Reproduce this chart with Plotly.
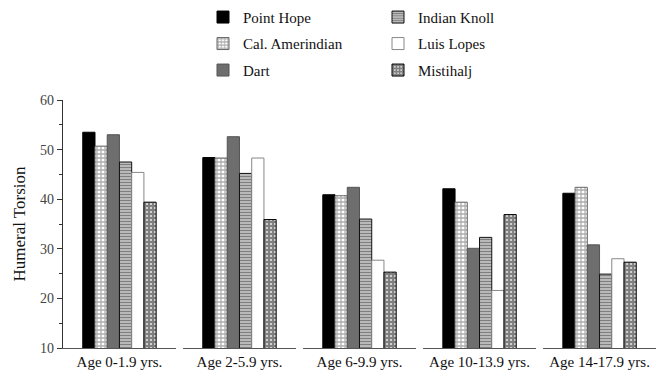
import plotly.graph_objects as go
from plotly.subplots import make_subplots

groups = ["Age 0-1.9 yrs.", "Age 2-5.9 yrs.", "Age 6-9.9 yrs.", "Age 10-13.9 yrs.", "Age 14-17.9 yrs."]
series_names = ["Point Hope", "Cal. Amerindian", "Dart", "Indian Knoll", "Luis Lopes", "Mistihalj"]
point_hope = [53.5, 48.4, 40.9, 42.1, 41.2]
cal_amerindian = [50.7, 48.3, 40.7, 39.4, 42.4]
dart = [53.0, 52.6, 42.4, 30.1, 30.8]
indian_knoll = [47.5, 45.2, 36.0, 32.3, 24.9]
luis_lopes = [45.4, 48.3, 27.7, 21.6, 28.0]
mistihalj = [39.4, 35.9, 25.3, 36.9, 27.3]
series_values = [point_hope, cal_amerindian, dart, indian_knoll, luis_lopes, mistihalj]

styles = [
    dict(color="#000000", line=dict(color="#000000", width=1)),
    dict(color="#ffffff", line=dict(color="#666666", width=1),
         pattern=dict(shape="+", fgcolor="#5a5a5a", bgcolor="#ffffff", size=4, solidity=0.55)),
    dict(color="#6e6e6e", line=dict(color="#555555", width=1)),
    dict(color="#ffffff", line=dict(color="#111111", width=1),
         pattern=dict(shape="-", fgcolor="#000000", bgcolor="#ffffff", size=3, solidity=0.7)),
    dict(color="#ffffff", line=dict(color="#888888", width=1)),
    dict(color="#ffffff", line=dict(color="#000000", width=1),
         pattern=dict(shape="+", fgcolor="#000000", bgcolor="#ffffff", size=4, solidity=0.82)),
]
legend_of = ["legend", "legend", "legend", "legend2", "legend2", "legend2"]

n = len(groups)
fig = make_subplots(rows=1, cols=n, shared_yaxes=True, horizontal_spacing=0.012)

for gi, g in enumerate(groups):
    for si, name in enumerate(series_names):
        fig.add_trace(go.Bar(
            x=[g], y=[series_values[si][gi]], name=name,
            marker=styles[si],
            legend=legend_of[si], legendgroup=name,
            showlegend=(gi == 0),
        ), row=1, col=gi + 1)

FAM = "Liberation Serif"
font = dict(family=FAM, size=15, color="#111111")
L, R = 63, 9
pw = 665 - L - R

fig.update_layout(
    width=665, height=374,
    margin=dict(l=L, r=R, t=100, b=26, autoexpand=False),
    plot_bgcolor="white", paper_bgcolor="white",
    barmode="group", bargap=0.35, bargroupgap=0,
    font=font,
    legend=dict(x=(203 - L) / pw, y=1.40, xanchor="left", yanchor="top", tracegroupgap=4,
                font=dict(family=FAM, size=15, color="#111111"), bgcolor="rgba(0,0,0,0)"),
    legend2=dict(x=(378 - L) / pw, y=1.40, xanchor="left", yanchor="top", tracegroupgap=4,
                 font=dict(family=FAM, size=15, color="#111111"), bgcolor="rgba(0,0,0,0)"),
)

fig.update_xaxes(showline=True, linecolor="#555555", linewidth=1.2, ticks="",
                 showgrid=False, tickfont=dict(family=FAM, size=15, color="#111111"), fixedrange=True)
fig.update_yaxes(range=[10, 60], showgrid=False, zeroline=False)
fig.update_yaxes(row=1, col=1, showline=True, linecolor="#333333", linewidth=1.2,
                 ticks="outside", ticklen=5, tickwidth=1.2, tickcolor="#333333",
                 tickvals=[10, 20, 30, 40, 50, 60],
                 minor=dict(dtick=5, tick0=0, ticks="outside", ticklen=3, tickcolor="#333333"),
                 title=dict(text="Humeral Torsion", font=dict(family=FAM, size=17, color="#111111"), standoff=10),
                 tickfont=dict(family=FAM, size=14, color="#444444"))
for c in range(2, n + 1):
    fig.update_yaxes(row=1, col=c, showline=False, showticklabels=False, ticks="")

fig.write_html("out.html", config={"displayModeBar": False},
               post_script="document.body.style.margin='0';")
